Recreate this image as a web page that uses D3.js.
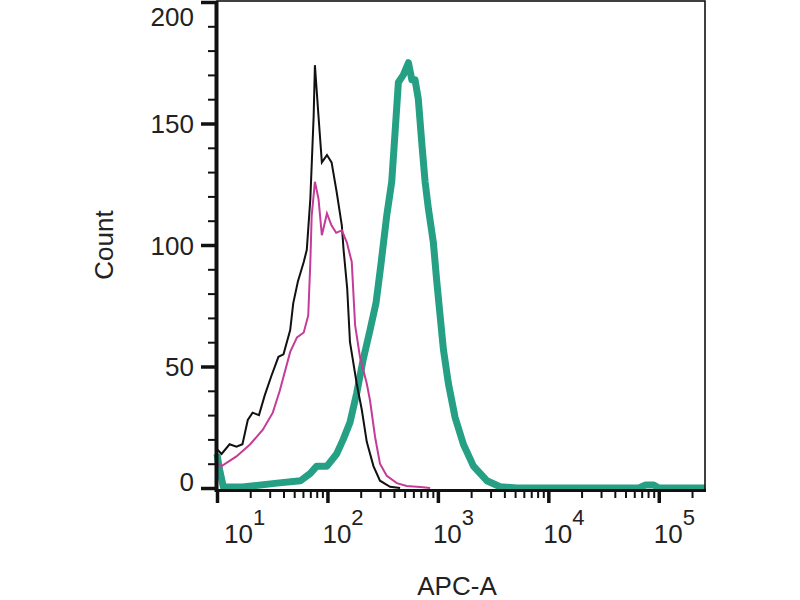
<!DOCTYPE html>
<html>
<head>
<meta charset="utf-8">
<style>
  body { margin: 0; background: #fff; }
  svg text { font-family: "Liberation Sans", Arial, sans-serif; fill: #222; }
  .tick text { display: none; }
</style>
</head>
<body>
<script src="https://d3js.org/d3.v7.min.js"></script>
<script>
// histogram series, [APC-A intensity, count]
var isotype = [
  [10,16],[11,14],[13,18],[15,17],[17,18],[19,28],[21,31],[24,30],[27,38],[31,46],
  [36,54],[40,55],[46,65],[49,76],[54,85],[61,93],[65,98],[70,119],[75,153],[77,174],
  [83,153],[89,134],[99,137],[109,134],[121,122],[135,108],[140,98],[151,82],[160,60],
  [184,43],[205,32],[227,19],[261,9],[299,3],[369,0.5],[455,0]
];
var unstained = [
  [10,10],[11,9],[15,13],[20,18],[26,24],[32,31],[37,40],[46,56],[53,62],[61,64],
  [67,71],[70,93],[72,112],[77,126],[83,119],[89,104],[99,113],[109,108],[120,105],
  [135,106],[150,101],[166,93],[178,67],[197,54],[227,43],[243,36],[270,21],[299,10],
  [344,5],[425,2],[522,0.8],[690,0.4],[851,0]
];
var stained = [
  [10,14],[10.5,8],[11.4,0.5],[17,0.4],[35,2],[57,3],[70,6],[80,9],[99,9],[121,14],
  [139,20],[160,27],[184,39],[211,53],[243,65],[275,76],[305,92],[344,112],[382,126],
  [409,146],[439,167],[487,170],[541,175],[581,168],[621,168],[665,160],[715,142],
  [766,126],[820,115],[910,101],[977,85],[1047,71],[1122,57],[1245,43],[1432,29],
  [1702,18],[2099,9],[2773,3],[3656,0.5],[5188,0],[66000,0],[76000,1.2],[90000,1.2],
  [100000,0],[262144,0]
];

var yMajor = [0, 50, 100, 150, 200];
var yMinor = d3.range(0, 201, 10);
var xMajor = [1, 2, 3, 4, 5];   // decades (10^n)

var x0 = 217, x1 = 705, yTop = 2, yBase = 488;

var svg = d3.select("body").append("svg")
    .attr("width", 800)
    .attr("height", 600);

var x = d3.scaleLog().domain([10, 262144]).range([x0, x1]);
var y = d3.scaleLinear().domain([0, 200]).range([yBase, yTop]);

var xMinor = [];
[1, 2, 3, 4, 5].forEach(function (e) {
  for (var m = 2; m <= 9; m++) {
    var v = m * Math.pow(10, e);
    if (v <= 262144) xMinor.push(v);
  }
});

// curves
var line = d3.line()
    .x(function (d) { return x(d[0]); })
    .y(function (d) { return y(d[1]); });

var plot = svg.append("g");

plot.append("path")
    .attr("d", line(stained))
    .style("fill", "none")
    .style("stroke", "#26a084")
    .style("stroke-width", "7px")
    .style("stroke-linejoin", "round");

plot.append("path")
    .attr("d", line(isotype))
    .style("fill", "none")
    .style("stroke", "#111")
    .style("stroke-width", "2px");

plot.append("path")
    .attr("d", line(unstained))
    .style("fill", "none")
    .style("stroke", "#c43c98")
    .style("stroke-width", "2px");

// frame
svg.append("rect")
    .attr("x", x0)
    .attr("y", 1)
    .attr("width", x1 - x0)
    .attr("height", 489)
    .style("fill", "none")
    .style("stroke", "#111")
    .style("stroke-width", "1.6px");

// y axis
var yMinorAxis = svg.append("g")
    .attr("transform", "translate(" + x0 + ",0)")
    .call(d3.axisLeft(y).tickValues(yMinor).tickSize(9).tickFormat(""));
yMinorAxis.selectAll("line").style("stroke", "#111").style("stroke-width", "2px");

var yMajorAxis = svg.append("g")
    .attr("transform", "translate(" + x0 + ",0)")
    .call(d3.axisLeft(y).tickValues(yMajor).tickSize(16).tickFormat(""));
yMajorAxis.selectAll("line").style("stroke", "#111").style("stroke-width", "3.5px");
svg.selectAll(".domain").remove();

svg.selectAll("text.ylab")
  .data(yMajor)
  .enter().append("text")
    .attr("class", "ylab")
    .attr("x", 194)
    .attr("y", function (d) {
      var c = Math.min(Math.max(y(d), 16), 481);
      return c + 9.5;
    })
    .style("text-anchor", "end")
    .style("font-size", "26px")
    .text(function (d) { return d; });

// x axis
var xg = svg.append("g").attr("transform", "translate(0," + 490 + ")");
xg.call(d3.axisBottom(x).tickValues(xMinor).tickSize(8).tickFormat(""));
xg.selectAll("line").style("stroke", "#111").style("stroke-width", "2px");

var xg2 = svg.append("g").attr("transform", "translate(0," + 490 + ")");
xg2.call(d3.axisBottom(x).tickValues(xMajor.map(function (e) { return Math.pow(10, e); }))
    .tickSize(13).tickFormat(""));
xg2.selectAll("line").style("stroke", "#111").style("stroke-width", "3.5px");
svg.selectAll(".domain").remove();

// axis lines
svg.append("line")
    .attr("x1", x0 - 1).attr("x2", x1 + 1)
    .attr("y1", 490.5).attr("y2", 490.5)
    .style("stroke", "#111")
    .style("stroke-width", "3px");
svg.append("line")
    .attr("x1", x0 - 0.5).attr("x2", x0 - 0.5)
    .attr("y1", 1).attr("y2", 492)
    .style("stroke", "#111")
    .style("stroke-width", "4px");

var xl = svg.selectAll("text.xlab")
  .data(xMajor)
  .enter().append("text")
    .attr("class", "xlab")
    .attr("x", function (d) { return Math.max(x(Math.pow(10, d)) - 5, x0 + 7); })
    .attr("y", 543)
    .style("font-size", "26px");
xl.append("tspan").text("10");
xl.append("tspan")
    .attr("dy", -18)
    .style("font-size", "22px")
    .text(function (d) { return d; });

// axis titles
svg.append("text")
    .attr("transform", "translate(113,245) rotate(-90)")
    .style("text-anchor", "middle")
    .style("font-size", "26px")
    .text("Count");

svg.append("text")
    .attr("x", 457)
    .attr("y", 595)
    .style("text-anchor", "middle")
    .style("font-size", "26px")
    .text("APC-A");
</script>
</body>
</html>
